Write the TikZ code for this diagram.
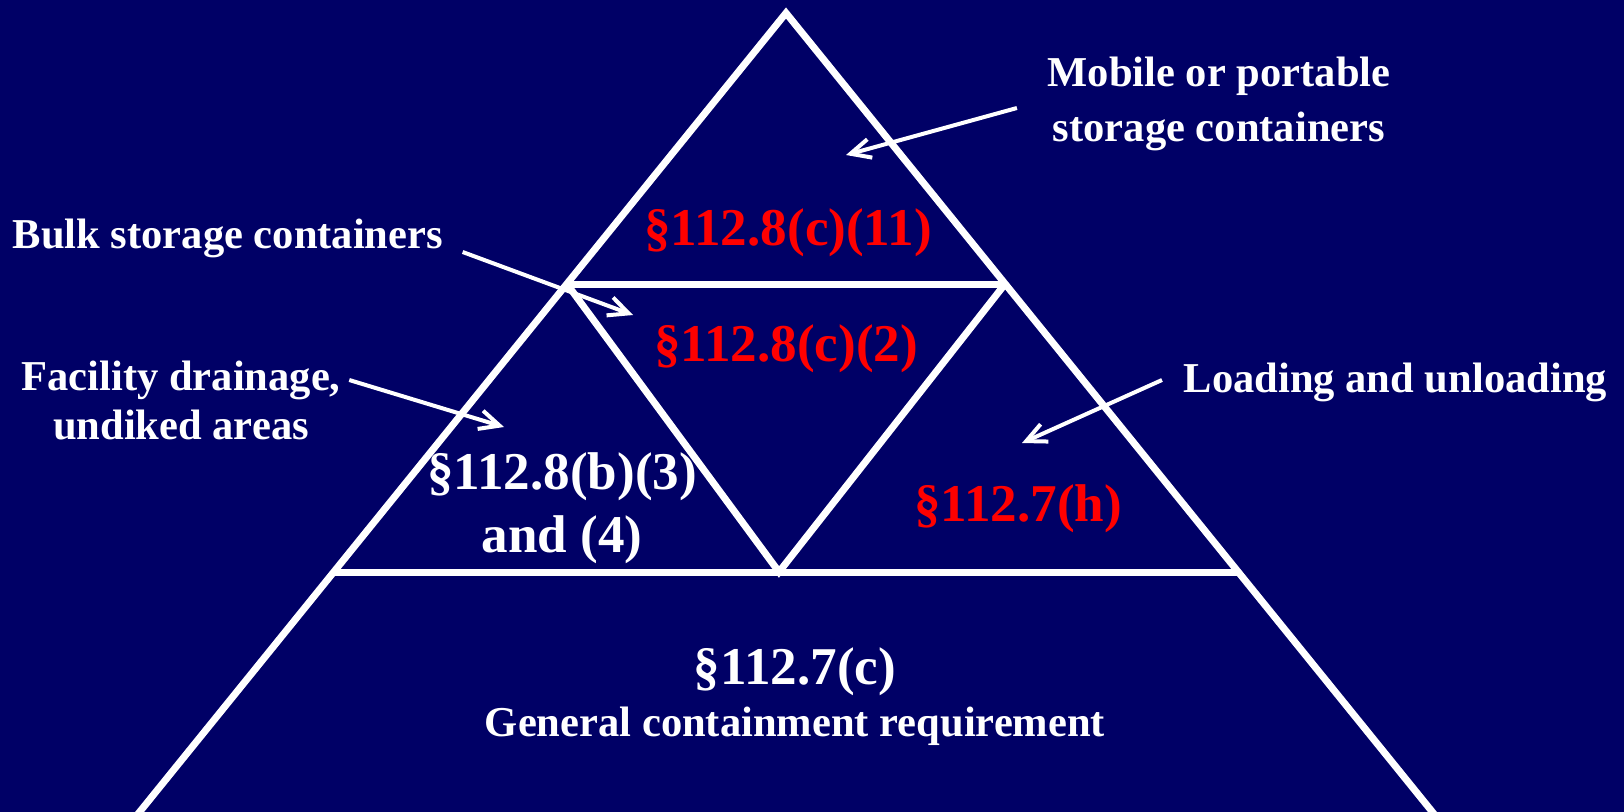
\documentclass[tikz,border=0pt]{standalone}
\usepackage{fontspec}
\setmainfont{Liberation Serif}
\usepackage{tikz}
\usetikzlibrary{arrows.meta,calc}
\definecolor{slidebg}{HTML}{000066}
\definecolor{citered}{HTML}{FF0000}

\begin{document}
\begin{tikzpicture}[x=0.01cm,y=-0.01cm,
 wall/.style={draw=white,line width=0.07cm,line join=miter},
 lbl/.style={text=white,inner sep=0pt,align=center,font=\bfseries\fontsize{12.1}{15.5}\selectfont},
 cite/.style={inner sep=0pt,align=center,font=\bfseries\fontsize{15.1}{17.9}\selectfont},
 ar/.style={draw=white,line width=0.04cm,-{Straight Barb[length=0.2cm,width=0.19cm]}}]
\path[use as bounding box,fill=slidebg] (0,0) rectangle (1624,812);
\clip (0,0) rectangle (1624,812);
% pyramid
\coordinate (top) at (786,13);
\coordinate (bl) at (125,830); \coordinate (br) at (1447,830);
\coordinate (l1) at (567,284); \coordinate (r1) at (1005,284);
\coordinate (l2) at (334,572); \coordinate (r2) at (1238,572);
\coordinate (mid) at (779,572);
\draw[wall] (bl) -- (top) -- (br);
\draw[wall] (l1) -- (r1); \draw[wall] (l2) -- (r2);
\draw[wall] (l1) -- (mid) -- (r1);
% citations
\node[cite,text=citered,anchor=base] (c11) at (788,245) {§112.8(c)(11)};
\node[cite,text=citered,anchor=base] (c2) at (786,361) {§112.8(c)(2)};
\node[cite,text=white,anchor=base] (b34) at (562,552) {§112.8(b)(3)\\and (4)};
\node[cite,text=citered,anchor=base] (h) at (1018,521) {§112.7(h)};
\node[cite,text=white,anchor=base] (c) at (795,684) {§112.7(c)};
\node[lbl,anchor=base] (gen) at (795,736) {General containment requirement};
% side labels
\node[lbl,anchor=base] (mobile) at (1219,141) {Mobile or portable\\storage containers};
\node[lbl,anchor=base west] (bulk) at (12,248) {Bulk storage containers};
\node[lbl,anchor=base,font=\bfseries\fontsize{12.1}{13.9}\selectfont] (facil) at (181,439) {Facility drainage,\\undiked areas};
\node[lbl,anchor=base west] (load) at (1183,392) {Loading and unloading};
\coordinate (mobtip) at (846,155);
\coordinate (bulktip) at (633,315);
\coordinate (faciltip) at (504,427);
\coordinate (loadtip) at (1022,443);
\draw[ar] ($(mobile.base west)+(-30,-33)$) -- (mobtip);
\draw[ar] ($(bulk.base east)+(19,4)$) -- (bulktip);
\draw[ar] ($(facil.base east)+(8,-59)$) -- (faciltip);
\draw[ar] ($(load.base west)+(-21,-12)$) -- (loadtip);
\end{tikzpicture}
\end{document}
